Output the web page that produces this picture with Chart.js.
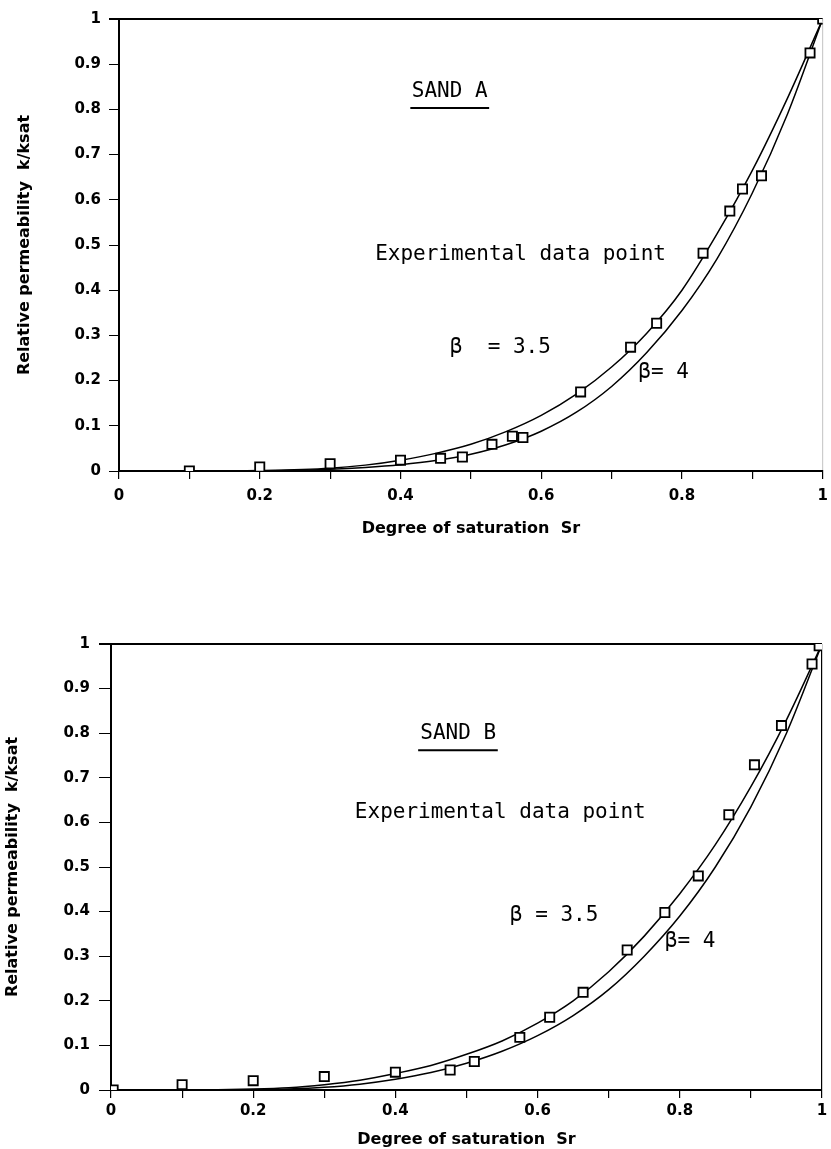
<!DOCTYPE html>
<html>
<head>
<title>Relative permeability - Sand A / Sand B</title>
<script src="https://cdn.jsdelivr.net/npm/chart.js"></script>
<style>
  body { margin: 0; background: #fff; }
  .box { position: absolute; left: 0; width: 831px; }
  #boxA { top: 0; height: 560px; }
  #boxB { top: 560px; height: 589px; }
</style>
</head>
<body>
<div class="box" id="boxA"><canvas id="chartA"></canvas></div>
<div class="box" id="boxB"><canvas id="chartB"></canvas></div>

<script>
// ---- SAND A ----
// experimental points (Sr, k/ksat)
const srA = [0.1, 0.2, 0.3, 0.4, 0.457, 0.488, 0.53, 0.559, 0.574, 0.656, 0.727, 0.764, 0.83, 0.868, 0.886, 0.913, 0.982, 1.0];
const krA = [0.0, 0.009, 0.016, 0.024, 0.028, 0.031, 0.059, 0.077, 0.074, 0.175, 0.274, 0.327, 0.482, 0.575, 0.624, 0.653, 0.925, 1.0];
// fitted curves
const srCurveA = [0, 0.1, 0.2, 0.3, 0.35, 0.4, 0.45, 0.5, 0.55, 0.6, 0.65, 0.7, 0.75, 0.8, 0.85, 0.9, 0.95, 1.0];
const krA35 = [0, 0, 0.001, 0.006, 0.013, 0.024, 0.039, 0.059, 0.087, 0.123, 0.17, 0.23, 0.305, 0.4, 0.525, 0.665, 0.825, 1.0];
const krA4 = [0, 0, 0, 0.004, 0.008, 0.014, 0.023, 0.037, 0.058, 0.088, 0.13, 0.187, 0.262, 0.355, 0.47, 0.615, 0.79, 1.0];

// ---- SAND B ----
const srB = [0.003, 0.1, 0.2, 0.3, 0.4, 0.477, 0.511, 0.575, 0.617, 0.664, 0.726, 0.779, 0.826, 0.869, 0.905, 0.943, 0.986, 0.996];
const krB = [0.0, 0.012, 0.021, 0.03, 0.04, 0.045, 0.064, 0.118, 0.163, 0.219, 0.314, 0.398, 0.48, 0.617, 0.729, 0.817, 0.955, 0.996];
const srCurveB = [0, 0.1, 0.2, 0.25, 0.3, 0.35, 0.4, 0.45, 0.5, 0.55, 0.6, 0.65, 0.7, 0.75, 0.8, 0.85, 0.9, 0.95, 1.0];
const krB35 = [0, 0, 0.002, 0.005, 0.012, 0.022, 0.037, 0.055, 0.08, 0.11, 0.15, 0.2, 0.265, 0.345, 0.44, 0.55, 0.68, 0.83, 1.0];
const krB4 = [0, 0, 0, 0.002, 0.006, 0.013, 0.024, 0.039, 0.06, 0.087, 0.122, 0.167, 0.225, 0.3, 0.39, 0.5, 0.635, 0.8, 1.0];

const xTitle = "Degree of saturation  Sr";
const yTitle = "Relative permeability  k/ksat";

const pts = (xs, ys) => xs.map((x, i) => ({ x: x, y: ys[i] }));
const isOne = v => Math.abs(v - 1) < 1e-9;
const fmt = v => {
  const r = Math.round(v * 10) / 10;
  return r === 0 ? "0" : r === 1 ? "1" : r.toFixed(1);
};
const tickFont = { family: "'DejaVu Sans'", size: 15, weight: "bold" };
const titleFont = { family: "'DejaVu Sans'", size: 16, weight: "bold" };

// text written on the plot, drawn in data coordinates
const notes = {
  id: "notes",
  afterDatasetsDraw(chart, args, opts) {
    const { ctx } = chart;
    const x = chart.scales.x, y = chart.scales.y;
    ctx.save();
    ctx.fillStyle = "#000";
    ctx.strokeStyle = "#000";
    ctx.font = "21px 'DejaVu Sans Mono'";
    ctx.textBaseline = "middle";
    opts.items.forEach(t => {
      ctx.fillText(t.text, x.getPixelForValue(t.x), y.getPixelForValue(t.y));
    });
    const u = opts.underline;
    ctx.lineWidth = 2;
    ctx.beginPath();
    ctx.moveTo(x.getPixelForValue(u.x0), y.getPixelForValue(u.y));
    ctx.lineTo(x.getPixelForValue(u.x1), y.getPixelForValue(u.y));
    ctx.stroke();
    ctx.restore();
  }
};

function makeChart(id, d, o) {
  return new Chart(document.getElementById(id), {
    type: "scatter",
    data: {
      datasets: [
        {
          label: "Experimental data point",
          data: pts(d.sr, d.kr),
          pointStyle: "rect",
          pointRadius: 6.5,
          pointBorderWidth: 1.8,
          borderColor: "#000",
          backgroundColor: "#fff",
          showLine: false
        },
        {
          label: "β = 3.5",
          data: pts(d.srCurve, d.k35),
          showLine: true,
          pointRadius: 0,
          borderColor: "#000",
          borderWidth: 1.5,
          cubicInterpolationMode: "monotone"
        },
        {
          label: "β = 4",
          data: pts(d.srCurve, d.k4),
          showLine: true,
          pointRadius: 0,
          borderColor: "#000",
          borderWidth: 1.5,
          cubicInterpolationMode: "monotone"
        }
      ]
    },
    options: {
      responsive: true,
      maintainAspectRatio: false,
      animation: false,
      layout: { padding: { top: o.top, right: o.right, left: 0, bottom: 0 } },
      plugins: {
        legend: { display: false },
        tooltip: { enabled: false },
        notes: { items: o.items, underline: o.underline }
      },
      scales: {
        x: {
          type: "linear",
          min: 0,
          max: 1,
          afterFit(s) { s.height = o.xHeight; s.paddingLeft = 0; s.paddingRight = 0; },
          ticks: {
            stepSize: 0.1,
            autoSkip: false,
            maxRotation: 0,
            padding: o.xPad,
            color: "#000",
            font: tickFont,
            callback: v => (Math.round(v * 10) % 2 ? "" : fmt(v))
          },
          grid: {
            color: c => (c.tick && isOne(c.tick.value) ? o.rightColor : "rgba(0,0,0,0)"),
            tickColor: "#000",
            tickLength: 8,
            lineWidth: 1.2
          },
          border: { color: "#000", width: 2 },
          title: {
            display: true,
            text: xTitle,
            color: "#000",
            font: titleFont,
            padding: { top: 0, bottom: o.xTitlePad }
          }
        },
        y: {
          type: "linear",
          min: 0,
          max: 1,
          afterFit(s) { s.width = o.yWidth; s.paddingTop = 0; s.paddingBottom = 0; },
          ticks: {
            stepSize: 0.1,
            autoSkip: false,
            padding: o.yPad,
            color: "#000",
            font: tickFont,
            callback: v => fmt(v)
          },
          grid: {
            color: c => (c.tick && isOne(c.tick.value) ? "#000" : "rgba(0,0,0,0)"),
            lineWidth: c => (c.tick && isOne(c.tick.value) ? 2 : 1),
            tickColor: "#000",
            tickLength: o.yTick
          },
          border: { color: "#000", width: 2 },
          title: {
            display: true,
            text: yTitle,
            color: "#000",
            font: titleFont,
            padding: { top: o.yTitlePad, bottom: 0 }
          }
        }
      }
    },
    plugins: [notes]
  });
}

makeChart("chartA",
  { sr: srA, kr: krA, srCurve: srCurveA, k35: krA35, k4: krA4 },
  {
    top: 19, right: 1, xHeight: 89, yWidth: 119, xPad: 8, yPad: 8, yTick: 10,
    xTitlePad: 22, yTitlePad: 15, rightColor: "#ccc",
    items: [
      { text: "SAND A", x: 0.416, y: 0.84 },
      { text: "Experimental data point", x: 0.364, y: 0.478 },
      { text: "β  = 3.5", x: 0.47, y: 0.274 },
      { text: "β= 4", x: 0.738, y: 0.217 }
    ],
    underline: { x0: 0.414, x1: 0.526, y: 0.803 }
  });

makeChart("chartB",
  { sr: srB, kr: krB, srCurve: srCurveB, k35: krB35, k4: krB4 },
  {
    top: 84, right: 9, xHeight: 59, yWidth: 111, xPad: 4, yPad: 9, yTick: 12,
    xTitlePad: 0, yTitlePad: 3, rightColor: "#000",
    items: [
      { text: "SAND B", x: 0.435, y: 0.80 },
      { text: "Experimental data point", x: 0.343, y: 0.623 },
      { text: "β = 3.5", x: 0.561, y: 0.392 },
      { text: "β= 4", x: 0.779, y: 0.332 }
    ],
    underline: { x0: 0.432, x1: 0.544, y: 0.762 }
  });
</script>
</body>
</html>
